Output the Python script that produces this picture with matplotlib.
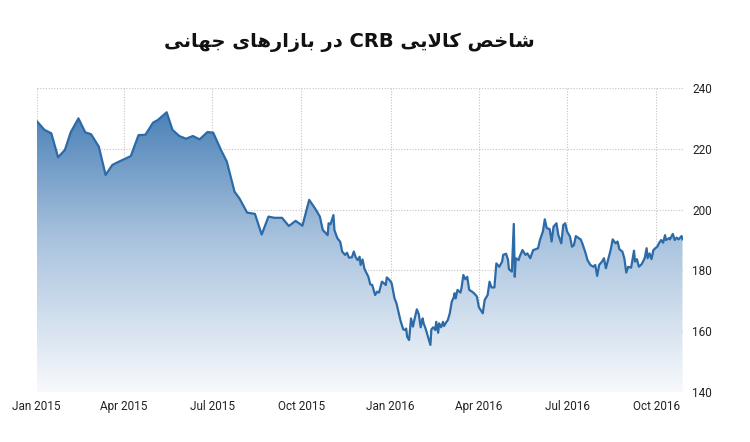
import numpy as np
import pandas as pd
from matplotlib import pyplot as plt
import matplotlib.dates as mdates
from matplotlib.colors import LinearSegmentedColormap

TITLE = "شاخص کالایی CRB در بازارهای جهانی"

dates = [
    "2015-01-01", "2015-01-09", "2015-01-16", "2015-01-23", "2015-01-30", "2015-02-05",
    "2015-02-13", "2015-02-20", "2015-02-26", "2015-03-06", "2015-03-13", "2015-03-20",
    "2015-03-27", "2015-04-08", "2015-04-16", "2015-04-23", "2015-05-01", "2015-05-06",
    "2015-05-15", "2015-05-21", "2015-05-28", "2015-06-04", "2015-06-11", "2015-06-18",
    "2015-06-26", "2015-07-02", "2015-07-10", "2015-07-16", "2015-07-24", "2015-07-29",
    "2015-08-06", "2015-08-14", "2015-08-21", "2015-08-28", "2015-09-03", "2015-09-11",
    "2015-09-18", "2015-09-25", "2015-10-02", "2015-10-09", "2015-10-15", "2015-10-20",
    "2015-10-23", "2015-10-28", "2015-10-29", "2015-10-31", "2015-11-03", "2015-11-04",
    "2015-11-07", "2015-11-10", "2015-11-12", "2015-11-15", "2015-11-17", "2015-11-19",
    "2015-11-22", "2015-11-24", "2015-11-26", "2015-11-28", "2015-11-30", "2015-12-01",
    "2015-12-03", "2015-12-05", "2015-12-09", "2015-12-11", "2015-12-13", "2015-12-16",
    "2015-12-18", "2015-12-20", "2015-12-23", "2015-12-25", "2015-12-27", "2015-12-28",
    "2015-12-31", "2016-01-02", "2016-01-04", "2016-01-05", "2016-01-07", "2016-01-09",
    "2016-01-11", "2016-01-12", "2016-01-14", "2016-01-16", "2016-01-17", "2016-01-18",
    "2016-01-20", "2016-01-22", "2016-01-24", "2016-01-25", "2016-01-28", "2016-01-30",
    "2016-02-01", "2016-02-03", "2016-02-04", "2016-02-06", "2016-02-07", "2016-02-09",
    "2016-02-11", "2016-02-12", "2016-02-14", "2016-02-16", "2016-02-17", "2016-02-19",
    "2016-02-20", "2016-02-22", "2016-02-24", "2016-02-25", "2016-02-27", "2016-02-29",
    "2016-03-02", "2016-03-04", "2016-03-06", "2016-03-07", "2016-03-08", "2016-03-10",
    "2016-03-13", "2016-03-14", "2016-03-16", "2016-03-18", "2016-03-20", "2016-03-22",
    "2016-03-25", "2016-03-27", "2016-03-30", "2016-04-01", "2016-04-05", "2016-04-07",
    "2016-04-10", "2016-04-12", "2016-04-14", "2016-04-17", "2016-04-19", "2016-04-22",
    "2016-04-25", "2016-04-26", "2016-04-29", "2016-05-01", "2016-05-02", "2016-05-05",
    "2016-05-07", "2016-05-08", "2016-05-09", "2016-05-12", "2016-05-13", "2016-05-16",
    "2016-05-19", "2016-05-21", "2016-05-24", "2016-05-27", "2016-05-29", "2016-06-01",
    "2016-06-03", "2016-06-06", "2016-06-08", "2016-06-10", "2016-06-13", "2016-06-15",
    "2016-06-17", "2016-06-20", "2016-06-22", "2016-06-25", "2016-06-27", "2016-06-29",
    "2016-07-01", "2016-07-04", "2016-07-06", "2016-07-08", "2016-07-10", "2016-07-13",
    "2016-07-15", "2016-07-17", "2016-07-20", "2016-07-22", "2016-07-25", "2016-07-28",
    "2016-07-30", "2016-08-01", "2016-08-03", "2016-08-06", "2016-08-08", "2016-08-10",
    "2016-08-13", "2016-08-15", "2016-08-17", "2016-08-20", "2016-08-22", "2016-08-24",
    "2016-08-27", "2016-08-29", "2016-08-31", "2016-09-02", "2016-09-05", "2016-09-08",
    "2016-09-09", "2016-09-11", "2016-09-13", "2016-09-16", "2016-09-19", "2016-09-21",
    "2016-09-22", "2016-09-24", "2016-09-26", "2016-09-28", "2016-09-30", "2016-10-02",
    "2016-10-04", "2016-10-06", "2016-10-08", "2016-10-10", "2016-10-11", "2016-10-14",
    "2016-10-15", "2016-10-18", "2016-10-20", "2016-10-22", "2016-10-24", "2016-10-27",
    "2016-10-28",
]

crb = [
    229.1, 226.2, 225.1, 217.2, 219.6, 225.4,
    230.0, 225.4, 224.8, 220.7, 211.4, 214.7,
    215.8, 217.6, 224.5, 224.6, 228.6, 229.5,
    232.0, 226.2, 224.2, 223.3, 224.2, 223.1,
    225.5, 225.3, 219.6, 215.8, 205.9, 203.7,
    199.0, 198.6, 191.8, 197.7, 197.3, 197.3,
    194.6, 196.3, 194.7, 203.2, 200.4, 197.7,
    193.3, 191.6, 195.5, 195.2, 198.2, 193.3,
    190.6, 189.4, 186.2, 185.1, 185.8, 184.2,
    184.3, 186.2, 184.3, 183.4, 184.5, 181.8,
    183.6, 180.5, 177.9, 175.4, 175.2, 171.9,
    173.0, 172.7, 176.3, 175.8, 175.2, 177.7,
    176.8, 175.8, 172.5, 170.8, 169.2, 166.4,
    163.7, 162.6, 160.6, 160.4, 160.9, 158.2,
    157.1, 164.2, 161.5, 163.1, 167.2, 165.6,
    161.3, 164.2, 162.6, 160.9, 159.8, 157.7,
    155.5, 160.6, 161.3, 160.4, 163.1, 159.5,
    162.6, 161.3, 163.1, 161.7, 162.8, 163.7,
    165.9, 169.7, 171.1, 172.5, 170.8, 173.6,
    172.7, 174.1, 178.5, 177.1, 177.9, 173.6,
    173.0, 172.5, 171.4, 167.9, 165.9, 170.3,
    171.9, 176.3, 174.4, 174.4, 182.3, 181.2,
    182.9, 185.1, 185.5, 183.6, 180.4, 179.6,
    195.3, 177.9, 184.0, 183.4, 184.5, 186.7,
    185.1, 185.6, 184.0, 186.7, 186.9, 187.3,
    190.0, 192.8, 196.8, 193.9, 193.6, 189.5,
    194.4, 195.5, 191.6, 188.9, 194.9, 195.5,
    192.8, 191.1, 187.8, 188.3, 191.3, 190.6,
    190.2, 188.6, 185.7, 183.4, 181.8, 181.2,
    181.8, 178.2, 181.8, 182.9, 184.0, 180.7,
    184.5, 186.9, 190.2, 188.9, 189.5, 186.9,
    186.2, 184.0, 179.3, 181.2, 180.9, 186.5,
    182.9, 183.7, 181.2, 182.1, 184.0, 187.3,
    184.0, 185.6, 183.7, 186.7, 187.3, 187.8,
    189.1, 190.0, 189.1, 191.6, 190.0, 190.6,
    190.2, 192.0, 190.0, 190.8, 190.2, 191.3,
    190.2,
]

y_ticks = [140, 160, 180, 200, 220, 240]
x_ticks = ["2015-01-01", "2015-04-01", "2015-07-01", "2015-10-01",
           "2016-01-01", "2016-04-01", "2016-07-01", "2016-10-01"]

# matplotlib has no arabic shaping, so pick presentation forms by hand
# (isolated, final, initial, medial)
FORMS = {
    "ا": ("\uFE8D", "\uFE8E", None, None),
    "ب": ("\uFE8F", "\uFE90", "\uFE91", "\uFE92"),
    "ج": ("\uFE9D", "\uFE9E", "\uFE9F", "\uFEA0"),
    "خ": ("\uFEA5", "\uFEA6", "\uFEA7", "\uFEA8"),
    "د": ("\uFEA9", "\uFEAA", None, None),
    "ر": ("\uFEAD", "\uFEAE", None, None),
    "ز": ("\uFEAF", "\uFEB0", None, None),
    "ش": ("\uFEB5", "\uFEB6", "\uFEB7", "\uFEB8"),
    "ص": ("\uFEB9", "\uFEBA", "\uFEBB", "\uFEBC"),
    "ک": ("\uFB8E", "\uFB8F", "\uFB90", "\uFB91"),
    "ل": ("\uFEDD", "\uFEDE", "\uFEDF", "\uFEE0"),
    "ن": ("\uFEE5", "\uFEE6", "\uFEE7", "\uFEE8"),
    "ه": ("\uFEE9", "\uFEEA", "\uFEEB", "\uFEEC"),
    "ی": ("\uFBFC", "\uFBFD", "\uFBFE", "\uFBFF"),
}


def shape_word(word):
    if not any(c in FORMS for c in word):
        return word
    letters = list(word)
    out = []
    i = 0
    while i < len(letters):
        c = letters[i]
        prev = letters[i - 1] if i > 0 else None
        joins_prev = prev in FORMS and FORMS[prev][2] is not None
        if c == "ل" and i + 1 < len(letters) and letters[i + 1] == "ا":
            out.append("\uFEFC" if joins_prev else "\uFEFB")
            i += 2
            continue
        nxt = letters[i + 1] if i + 1 < len(letters) else None
        joins_next = nxt in FORMS and FORMS[c][2] is not None
        iso, fin, ini, med = FORMS[c]
        if joins_prev and joins_next:
            out.append(med)
        elif joins_prev:
            out.append(fin)
        elif joins_next:
            out.append(ini)
        else:
            out.append(iso)
        i += 1
    return "".join(reversed(out))


def rtl(text):
    return " ".join(shape_word(w) for w in reversed(text.split()))


x = pd.to_datetime(dates)
xn = mdates.date2num(x)

fig = plt.figure(figsize=(7.5, 4.42), dpi=100)
ax = fig.add_axes([0.049, 0.113, 0.861, 0.688])

x0, x1 = xn[0], xn[-1]
ax.set_xlim(x0, x1)
ax.set_ylim(140, 240)

fill = ax.fill_between(xn, crb, 140, facecolor="none", edgecolor="none")
cmap = LinearSegmentedColormap.from_list("crb", ["#f7f9fc", "#a9c3de", "#3a75b0"])
grad = np.linspace(0, 1, 256).reshape(-1, 1)
im = ax.imshow(grad, cmap=cmap, origin="lower", aspect="auto",
               extent=[x0, x1, 140, 240], zorder=1)
im.set_clip_path(fill.get_paths()[0], transform=ax.transData)

ax.plot(xn, crb, color="#2c6aa8", lw=1.6, zorder=3, solid_joinstyle="round")

ax.set_xticks(mdates.date2num(pd.to_datetime(x_ticks)))
ax.xaxis.set_major_formatter(mdates.DateFormatter("%b %Y"))
ax.set_yticks(y_ticks)
ax.yaxis.tick_right()
ax.grid(True, color="#c4c4c4", linestyle=(0, (1, 1.5)), lw=0.8, zorder=0)
ax.set_axisbelow(True)
ax.tick_params(length=0, labelsize=8.5, colors="#222222")
ax.tick_params(axis="x", pad=6)
ax.tick_params(axis="y", pad=7)
for lab in ax.get_xticklabels() + ax.get_yticklabels():
    lab.set_family(["Roboto", "DejaVu Sans"])
for s in ax.spines.values():
    s.set_visible(False)

fig.text(0.466, 0.905, rtl(TITLE), ha="center", va="center", fontsize=14,
         fontweight="bold", family=["DejaVu Sans"], color="#111111")

fig.savefig("out.png", dpi=100, facecolor="white")
